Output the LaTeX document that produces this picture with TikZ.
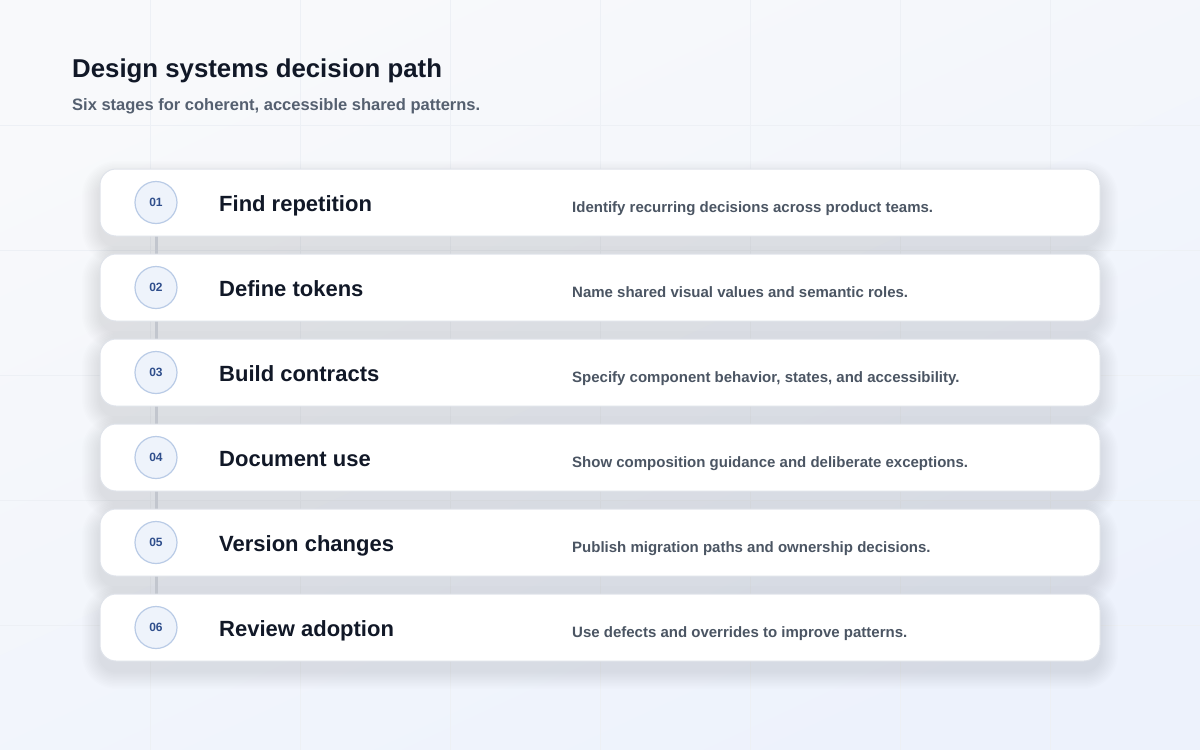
\documentclass[tikz,border=0pt]{standalone}
\usepackage{fontspec}
\setmainfont{Liberation Sans}
\definecolor{bgA}{HTML}{F8F9FB}
\definecolor{bgB}{HTML}{EDF2FC}
\definecolor{gridc}{HTML}{EDF0F5}
\definecolor{ink}{HTML}{111827}
\definecolor{subc}{HTML}{556070}
\definecolor{descc}{HTML}{4B5563}
\definecolor{cardline}{HTML}{DFE3EA}
\definecolor{numfill}{HTML}{EEF3FB}
\definecolor{numline}{HTML}{B9CBE6}
\definecolor{numtext}{HTML}{2F4E8C}
\definecolor{connc}{HTML}{C2C6CE}
\definecolor{shadowc}{HTML}{2E3850}
\pgfdeclarelayer{bg}
\pgfsetlayers{bg,main}
\tikzset{
  card/.style={draw=cardline, line width=1pt, fill=white, rounded corners=16pt,
    minimum width=1000pt, minimum height=67pt, inner sep=0pt},
  numc/.style={circle, draw=numline, line width=1.2pt, fill=numfill, minimum size=42pt,
    inner sep=0pt, text=numtext, font=\fontsize{12}{14}\selectfont\bfseries},
  stagetitle/.style={anchor=base west, inner sep=0pt, text=ink,
    font=\fontsize{22}{26}\selectfont\bfseries},
  stagedesc/.style={anchor=base west, inner sep=0pt, text=descc,
    font=\fontsize{15}{18}\selectfont\bfseries},
  connector/.style={draw=connc, line width=3pt},
}
\begin{document}
\begin{tikzpicture}[x=1pt,y=-1pt]
\useasboundingbox (0,0) rectangle (1200,750);
\begin{pgfonlayer}{bg}
  \shade[top color=bgA, bottom color=bgB, shading angle=25] (0,0) rectangle (1200,750);
  \foreach \gx in {150,300,...,1050} \draw[gridc, line width=1pt] (\gx,0) -- (\gx,750);
  \foreach \gy in {125,250,...,625} \draw[gridc, line width=1pt] (0,\gy) -- (1200,\gy);
  \begin{scope}
    \clip (0,0) rectangle (1200,688);
    \foreach \ty in {169,254,339,424,509,594} {
      \foreach \k in {1,...,12} {
        \pgfmathsetmacro{\e}{\k*1.5}
        \fill[shadowc, opacity=0.0075, rounded corners={16+\e}]
          ({100-\e},{\ty+10-\e}) rectangle ({1100+\e},{\ty+77+\e});
      }
    }
  \end{scope}
\end{pgfonlayer}

\node[anchor=base west, inner sep=0pt, text=ink, font=\fontsize{25.8}{31}\selectfont\bfseries]
  (title) at (72,77) {Design systems decision path};
\node[anchor=base west, inner sep=0pt, text=subc, font=\fontsize{16.5}{20}\selectfont\bfseries]
  (subtitle) at (72,110) {Six stages for coherent, accessible shared patterns.};

\foreach \i/\cy/\num/\ttl/\dsc in {
  1/202.5/01/Find repetition/Identify recurring decisions across product teams.,
  2/287.5/02/Define tokens/Name shared visual values and semantic roles.,
  3/372.5/03/Build contracts/{Specify component behavior, states, and accessibility.},
  4/457.5/04/Document use/Show composition guidance and deliberate exceptions.,
  5/542.5/05/Version changes/Publish migration paths and ownership decisions.,
  6/627.5/06/Review adoption/Use defects and overrides to improve patterns.} {
  \node[card] (card\i) at (600,\cy) {};
  \node[numc] (n\i) at (156,\cy) {\num};
  \node[stagetitle] (t\i) at (219,\cy+9) {\ttl};
  \node[stagedesc] (d\i) at (572,\cy+9.5) {\dsc};
}

\begin{pgfonlayer}{bg}
  \foreach \a/\b in {1/2,2/3,3/4,4/5,5/6}
    \draw[connector] (n\a) -- (n\b);
\end{pgfonlayer}
\end{tikzpicture}
\end{document}
